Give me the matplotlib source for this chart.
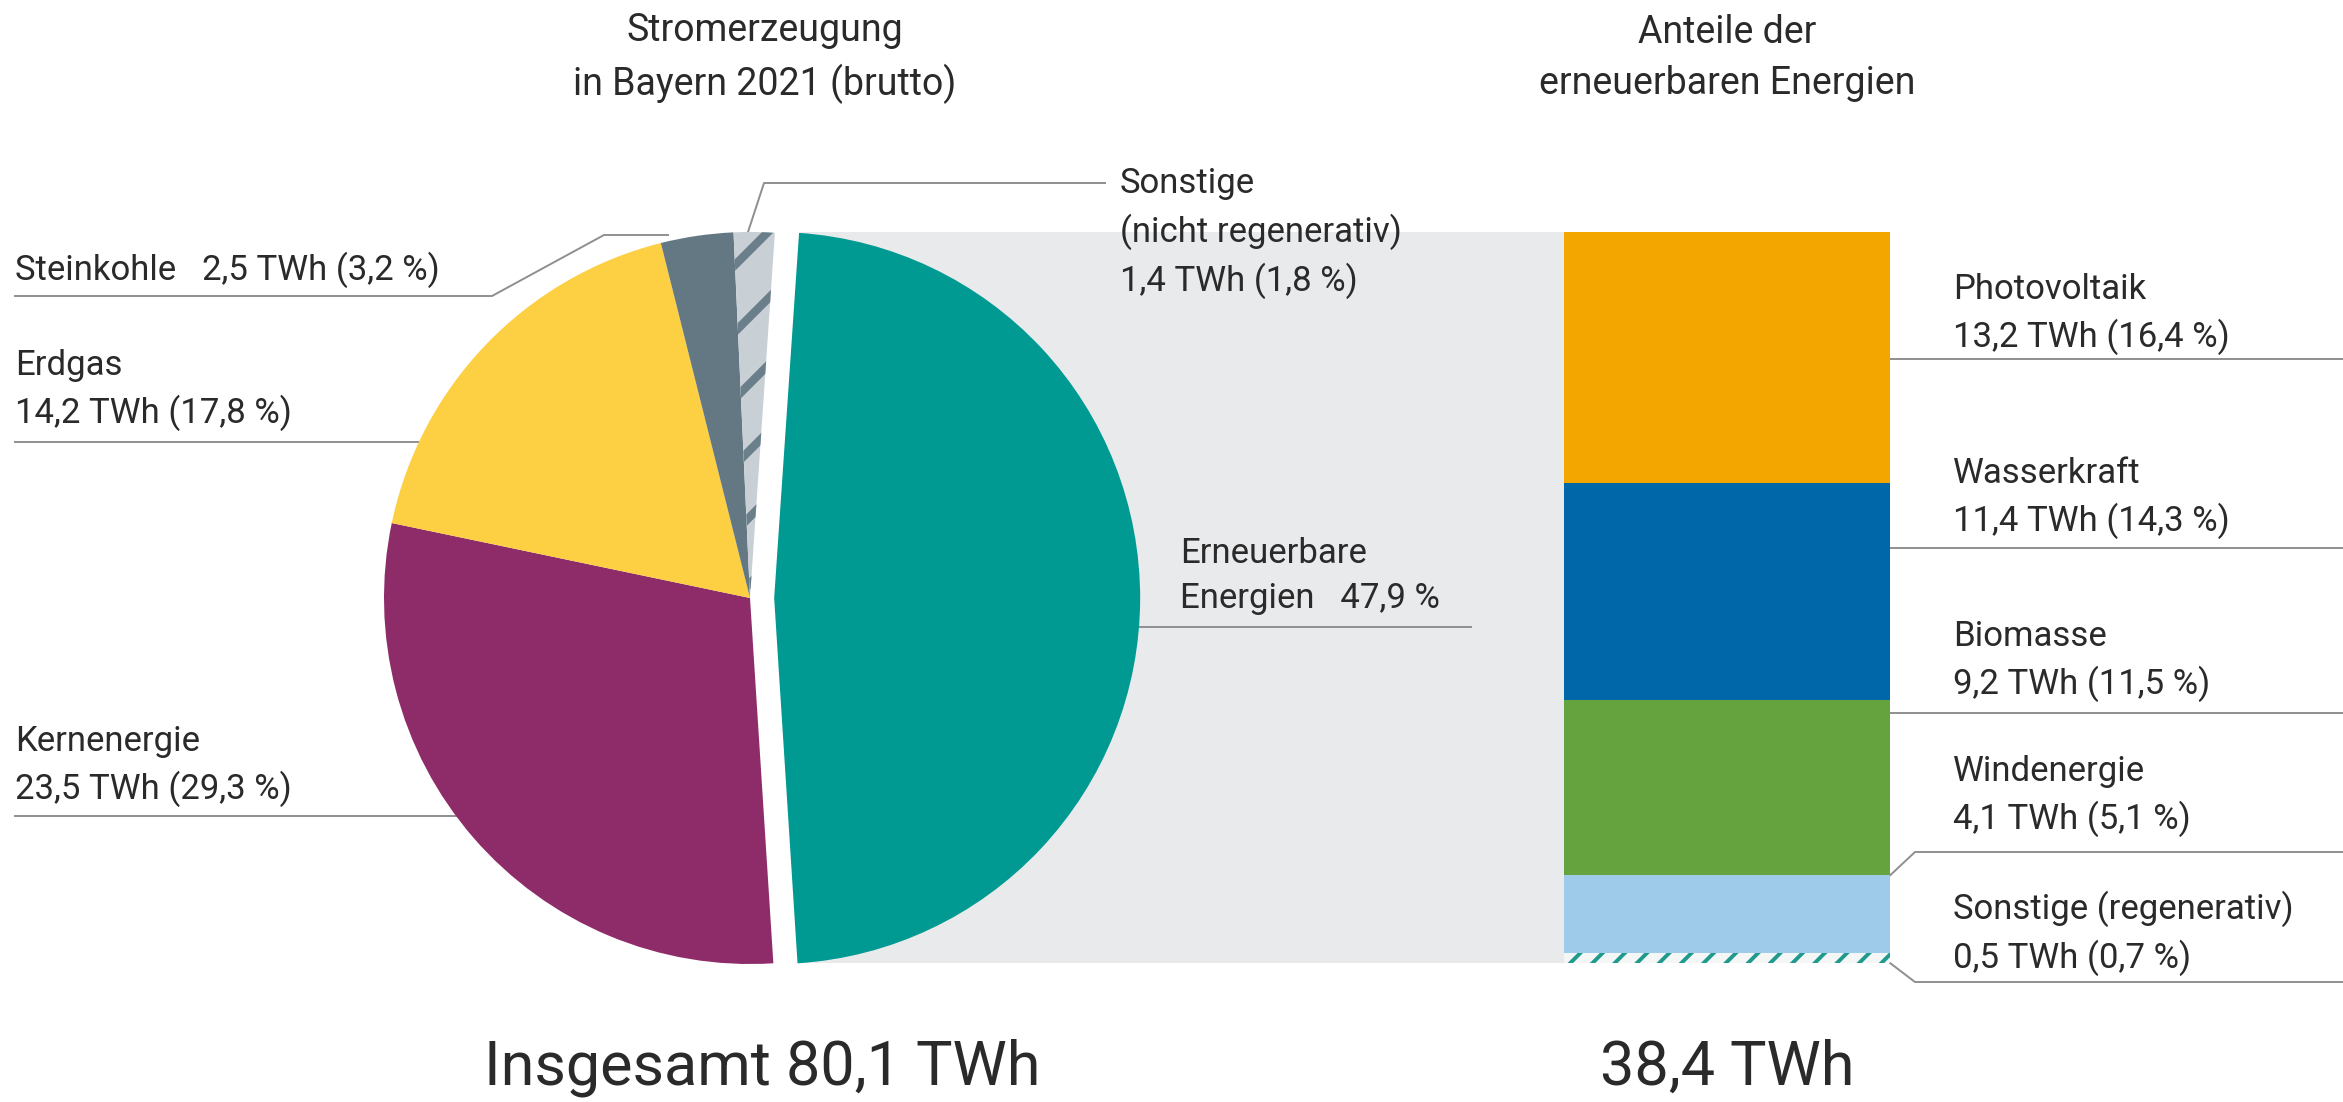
import matplotlib
matplotlib.use('Agg')
import matplotlib.pyplot as plt
from matplotlib.patches import Rectangle
import numpy as np

plt.rcParams['font.family'] = ['Roboto', 'DejaVu Sans']

# ---------------- data ----------------
pie_labels = ['Erneuerbare\nEnergien', 'Kernenergie', 'Erdgas', 'Steinkohle', 'Sonstige\n(nicht regenerativ)']
pie_twh = [38.4, 23.5, 14.2, 2.5, 1.4]
pie_pct = [47.9, 29.3, 17.8, 3.2, 1.8]
pie_colors = ['#009a93', '#8e2c69', '#fdd043', '#647884', '#c9d0d5']

ren_labels = ['Photovoltaik', 'Wasserkraft', 'Biomasse', 'Windenergie', 'Sonstige (regenerativ)']
ren_twh = [13.2, 11.4, 9.2, 4.1, 0.5]
ren_pct = [16.4, 14.3, 11.5, 5.1, 0.7]
ren_colors = ['#f4a600', '#0068a9', '#65a33f', '#9fcbea', '#f4f7f6']

total_twh = 80.1
ren_total = 38.4

title_left = 'Stromerzeugung\nin Bayern 2021 (brutto)'
title_right = 'Anteile der\nerneuerbaren Energien'


def de(v):
    return f'{v:.1f}'.replace('.', ',')


def val_text(twh, pct):
    return f'{de(twh)} TWh ({de(pct)} %)'


def hatch_lw(artist, lw):
    """Give one artist its own hatch line width, whatever the mpl version."""
    if hasattr(artist, 'set_hatch_linewidth'):
        artist.set_hatch_linewidth(lw)
    orig = artist.draw

    def draw(renderer, _orig=orig, _lw=lw):
        with plt.rc_context({'hatch.linewidth': _lw}):
            _orig(renderer)
    artist.draw = draw


# ---------------- figure ----------------
W, H, DPI = 2343, 1102, 200
fig = plt.figure(figsize=(W / DPI, H / DPI), dpi=DPI)
fig.patch.set_facecolor('white')

ov = fig.add_axes([0, 0, 1, 1], zorder=0)
ov.set_xlim(0, W)
ov.set_ylim(H, 0)
ov.axis('off')

TXT = '#2a2a2a'
LINE = '#8f8f8f'
LW = 0.7
FS = 12.5

# grey band behind the exploded wedge
bar_x0, bar_x1, bar_y0, bar_y1 = 1564, 1890, 232, 963
ov.add_patch(Rectangle((800, bar_y0), bar_x0 - 800, bar_y1 - bar_y0,
                       facecolor='#e9eaec', edgecolor='none', zorder=0))

# ---------------- pie ----------------
cx, cy, R, half = 750, 598, 366, 450
pax = fig.add_axes([(cx - half) / W, (H - cy - half) / H, 2 * half / W, 2 * half / H], zorder=1)
pax.patch.set_visible(False)
with plt.rc_context({'hatch.linewidth': 3.0}):
    wedges, _ = pax.pie(pie_pct, colors=pie_colors, startangle=86.1, counterclock=False,
                        explode=[0.066, 0, 0, 0, 0], wedgeprops=dict(linewidth=0))
    wedges[4].set_hatch('/')
    wedges[4].set_edgecolor('#6b7f8b')
    wedges[4].set_linewidth(0)
hatch_lw(wedges[4], 3.0)
pax.set_xlim(-half / R, half / R)
pax.set_ylim(-half / R, half / R)
pax.axis('off')

# ---------------- stacked bar ----------------
bax = fig.add_axes([bar_x0 / W, (H - bar_y1) / H, (bar_x1 - bar_x0) / W, (bar_y1 - bar_y0) / H], zorder=1)
bax.patch.set_visible(False)
bottoms = np.concatenate([[0], np.cumsum(ren_twh)[:-1]])
with plt.rc_context({'hatch.linewidth': 1.4}):
    bars = bax.bar([0] * len(ren_twh), ren_twh, bottom=bottoms, width=1.0,
                   color=ren_colors, linewidth=0)
    bars[-1].set_hatch('///')
    bars[-1].set_edgecolor('#1f9a8c')
    bars[-1].set_linewidth(0)
hatch_lw(bars[-1], 1.4)
bax.set_xlim(-0.5, 0.5)
bax.set_ylim(sum(ren_twh), 0)
bax.axis('off')


def seg_y(v):
    return bar_y0 + v / sum(ren_twh) * (bar_y1 - bar_y0)


# ---------------- titles ----------------
ov.text(765, 58, title_left, ha='center', va='center', fontsize=13.5, color=TXT, linespacing=1.45)
ov.text(1727, 58, title_right, ha='center', va='center', fontsize=13.5, color=TXT, linespacing=1.45)
ov.text(762, 1068, f'Insgesamt {de(total_twh)} TWh', ha='center', va='center', fontsize=22, color=TXT)
ov.text(1727, 1068, f'{de(ren_total)} TWh', ha='center', va='center', fontsize=22, color=TXT)

# ---------------- pie labels ----------------
lx = 15
# Steinkohle
ov.text(lx, 270, f'{pie_labels[3]}   {val_text(pie_twh[3], pie_pct[3])}', ha='left', va='center', fontsize=FS, color=TXT)
ov.plot([lx, 492, 604, 668], [296, 296, 235, 235], color=LINE, lw=LW)
# Erdgas
ov.text(lx, 390, f'{pie_labels[2]}\n{val_text(pie_twh[2], pie_pct[2])}', ha='left', va='center', fontsize=FS, color=TXT, linespacing=1.45)
ov.plot([lx, 420], [442, 442], color=LINE, lw=LW)
# Kernenergie
ov.text(lx, 766, f'{pie_labels[1]}\n{val_text(pie_twh[1], pie_pct[1])}', ha='left', va='center', fontsize=FS, color=TXT, linespacing=1.45)
ov.plot([lx, 458], [816, 816], color=LINE, lw=LW)
# Sonstige (nicht regenerativ)
ov.text(1120, 233, f'{pie_labels[4]}\n{val_text(pie_twh[4], pie_pct[4])}', ha='left', va='center', fontsize=FS, color=TXT, linespacing=1.45)
ov.plot([748, 764, 1105], [232, 183, 183], color=LINE, lw=LW)
# Erneuerbare
ov.text(1180, 576, f'{pie_labels[0]}   {de(pie_pct[0])} %', ha='left', va='center', fontsize=FS, color=TXT, linespacing=1.45)
ov.plot([1140, 1471], [627, 627], color=LINE, lw=LW)

# ---------------- bar labels ----------------
tx = 1953
label_mid = [314, 498, 661, 796, 933]
line_y = [359, 548, 713, 852, 982]
for i, (lab, twh, pct) in enumerate(zip(ren_labels, ren_twh, ren_pct)):
    ov.text(tx, label_mid[i], f'{lab}\n{val_text(twh, pct)}', ha='left', va='center',
            fontsize=FS, color=TXT, linespacing=1.45)
    if i < 3:
        ov.plot([bar_x1, W], [line_y[i], line_y[i]], color=LINE, lw=LW)
    elif i == 3:
        ov.plot([bar_x1, bar_x1 + 25, W], [seg_y(bottoms[3]), line_y[i], line_y[i]], color=LINE, lw=LW)
    else:
        ov.plot([bar_x1, bar_x1 + 25, W], [seg_y(sum(ren_twh)), line_y[i], line_y[i]], color=LINE, lw=LW)

fig.savefig('out.png', dpi=DPI, facecolor='white')
